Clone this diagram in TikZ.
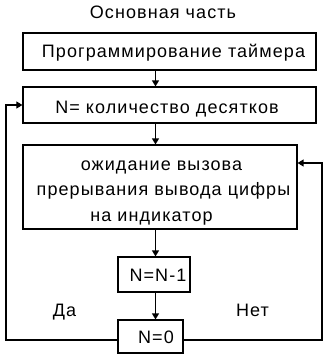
\documentclass[tikz,border=0pt]{standalone}
\usepackage{fontspec}
\setmainfont{Liberation Sans}[LetterSpace=6]
\usetikzlibrary{arrows.meta}
\begin{document}
\begin{tikzpicture}[x=1pt,y=-1pt,
  every node/.style={font=\fontsize{18}{22}\selectfont},
  blk/.style={draw,line width=1.2pt,inner sep=0pt,minimum width=#1},
  txt/.style={anchor=base,inner sep=0pt},
  arr/.style={line width=1.2pt,-{Triangle[width=7pt,length=6pt]}},
  ln/.style={line width=1.2pt}]
\useasboundingbox (0,0) rectangle (330,360);
\node[txt] (title) at (163,18) {Основная часть};
\node[blk=293pt,minimum height=37pt] (b1) at (169.5,51.5) {};
\node[txt] (t1) at (173.5,57.5) {Программирование таймера};
\node[blk=293pt,minimum height=36pt] (b2) at (169.5,105) {};
\node[txt] (t2) at (167,113.5) {N= количество десятков};
\node[blk=274pt,minimum height=84pt] (b3) at (160,187) {};
\node[txt] (t3a) at (161.5,170) {ожидание вызова};
\node[txt] (t3b) at (163.5,195) {прерывания вывода цифры};
\node[txt] (t3c) at (151.5,221) {на индикатор};
\node[blk=72pt,minimum height=35pt] (b4) at (154,274.5) {};
\node[txt] (t4) at (158,281.5) {N=N-1};
\node[blk=65pt,minimum height=33pt] (b5) at (150.5,336.5) {};
\node[txt] (t5) at (156,343.5) {N=0};
\node[txt] (da) at (64.5,316) {Да};
\node[txt] (net) at (252.5,316) {Нет};
\coordinate (cx) at (155.5,0);
\coordinate (L) at (6,340);
\coordinate (R) at (322,340);
\coordinate (rin) at (0,163);
\draw[arr] (b1.south -| cx) -- (b2.north -| cx);
\draw[arr] (b2.south -| cx) -- (b3.north -| cx);
\draw[arr] (b3.south -| cx) -- (b4.north -| cx);
\draw[arr] (b4.south -| cx) -- (b5.north -| cx);
\draw[arr] (b5.west |- L) -- (L) -- (L |- b2.west) -- (b2.west);
\draw[arr] (b5.east |- R) -- (R) -- (R |- rin) -- (b3.east |- rin);
\end{tikzpicture}
\end{document}
